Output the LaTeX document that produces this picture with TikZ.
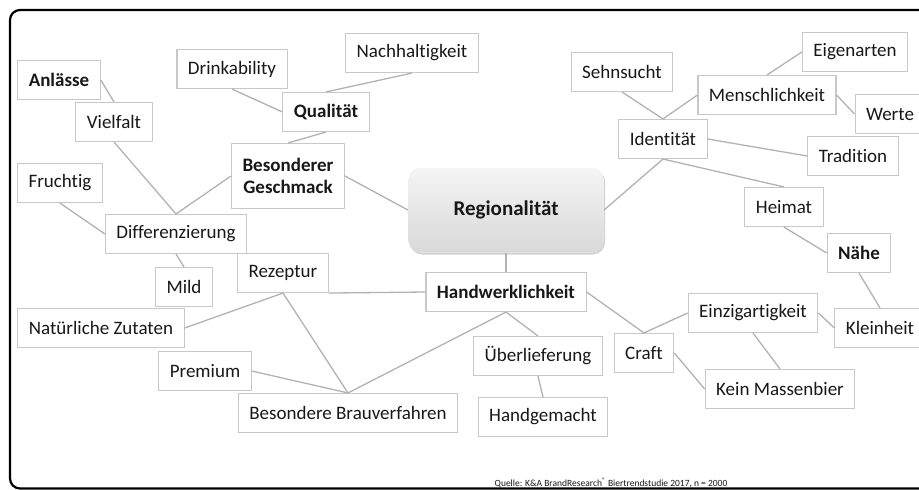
\documentclass[tikz,border=0pt]{standalone}
\usepackage{fontspec}
\setmainfont{Carlito}[Ligatures=NoCommon]
\usetikzlibrary{shadows}
\definecolor{boxline}{HTML}{C8C8C8}
\definecolor{wireline}{HTML}{B2B2B2}
\definecolor{inktext}{HTML}{181818}

\begin{document}
\begin{tikzpicture}[x=1pt,y=-1pt,
  line width=1.3pt]
    \tikzstyle{box}=[rectangle, draw=boxline, line width=1.1pt, fill=white, text=inktext,
      minimum height=39pt, inner xsep=11pt, font=\fontsize{19}{22}\selectfont]
    \tikzstyle{boldbox}=[box, font=\fontsize{19}{22}\selectfont\bfseries]
    \tikzstyle{wire}=[draw=wireline, line width=1.3pt]

    \clip (0,0) rectangle (919,490);
    \draw[line width=2.2pt, rounded corners=10pt] (10,10) rectangle (940,488.5);

    % centre
    \node[boldbox, draw=none, rounded corners=12pt, minimum width=195pt, minimum height=85pt,
      top color=gray!8, bottom color=gray!30,
      drop shadow={shadow xshift=1.5pt, shadow yshift=-2pt, opacity=0.35},
      font=\fontsize{21}{24}\selectfont\bfseries] (reg) at (506,210) {Regionalität};

    % left branch
    \node[boldbox] (anl)    at (59,80)   {Anlässe};
    \node[box]     (viel)   at (114,122) {Vielfalt};
    \node[box]     (drink)  at (232,69)  {Drinkability};
    \node[box]     (nach)   at (412,53)  {Nachhaltigkeit};
    \node[boldbox] (qual)   at (326,112) {Qualität};
    \node[boldbox, minimum height=65pt, align=center] (gesch) at (288,176) {Besonderer\\Geschmack};
    \node[box]     (frucht) at (60,183)  {Fruchtig};
    \node[box]     (diff)   at (176,234) {Differenzierung};
    \node[box]     (mild)   at (184,287) {Mild};
    \node[box]     (rez)    at (283,273) {Rezeptur};
    \node[box]     (zut)    at (101,328) {Natürliche Zutaten};
    \node[box]     (prem)   at (205,371) {Premium};
    \node[box]     (brau)   at (348,413) {Besondere Brauverfahren};

    % bottom branch
    \node[boldbox] (hand)   at (506,292) {Handwerklichkeit};
    \node[box]     (ueber)  at (538,356) {Überlieferung};
    \node[box]     (handg)  at (543,417) {Handgemacht};
    \node[box]     (craft)  at (644,353) {Craft};
    \node[box]     (einz)   at (753,313) {Einzigartigkeit};
    \node[box]     (mass)   at (780,389) {Kein Massenbier};
    \node[box]     (klein)  at (880,328) {Kleinheit};

    % right branch
    \node[box]     (ident)  at (663,139) {Identität};
    \node[box]     (sehn)   at (622,72)  {Sehnsucht};
    \node[box]     (mensch) at (767,95)  {Menschlichkeit};
    \node[box]     (eigen)  at (855,52)  {Eigenarten};
    \node[box]     (werte)  at (890,114) {Werte};
    \node[box]     (trad)   at (853,156) {Tradition};
    \node[box]     (heim)   at (784,207) {Heimat};
    \node[boldbox] (naehe)  at (859,253) {Nähe};

    \node[text=inktext, font=\fontsize{9.5}{11}\selectfont] (quelle) at (611,483)
      {Quelle: K\&A BrandResearch\textsuperscript{®} Biertrendstudie 2017, n = 2000};

    \draw[wire] (anl.east) -- (viel.north);
    \draw[wire] (viel.south) -- (diff.north);
    \draw[wire] (frucht.south) -- (diff.west);
    \draw[wire] (diff.north) -- (gesch.west);
    \draw[wire] (gesch.north) -- (qual.south);
    \draw[wire] (drink.south) -- (qual.west);
    \draw[wire] (qual.north) -- (nach.south);
    \draw[wire] (gesch.east) -- (reg.west);
    \draw[wire] (diff.south) -- (mild.north);

    \draw[wire] (reg.south) -- (hand.north);
    \draw[wire] (rez.south east) -- (hand.west);
    \draw[wire] (rez.south) -- (zut.east);
    \draw[wire] (rez.south) -- (brau.north);
    \draw[wire] (prem.east) -- (brau.north);
    \draw[wire] (hand.south) -- (brau.north);
    \draw[wire] (hand.south) -- (ueber.north);
    \draw[wire] (ueber.south) -- (handg.north);
    \draw[wire] (hand.east) -- (craft.north);
    \draw[wire] (craft.north) -- (einz.west);
    \draw[wire] (craft.east) -- (mass.west);
    \draw[wire] (einz.south) -- (mass.north);
    \draw[wire] (einz.east) -- (klein.west);

    \draw[wire] (reg.east) -- (ident.south);
    \draw[wire] (sehn.south) -- (ident.north);
    \draw[wire] (ident.north) -- (mensch.west);
    \draw[wire] (mensch.north) -- (eigen.west);
    \draw[wire] (mensch.east) -- (werte.west);
    \draw[wire] (ident.east) -- (trad.west);
    \draw[wire] (ident.south) -- (heim.north);
    \draw[wire] (heim.south) -- (naehe.west);
    \draw[wire] (naehe.south) -- (klein.north);

  \end{tikzpicture}
\end{document}
